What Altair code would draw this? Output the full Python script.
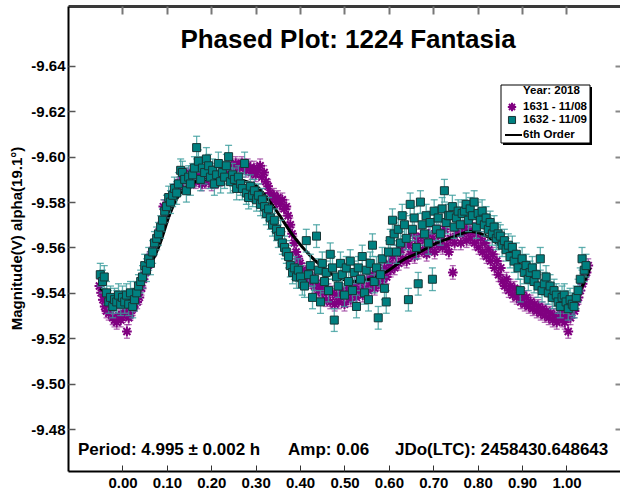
import altair as alt
import pandas as pd

FONT = "Liberation Sans"
TITLE = "Phased Plot: 1224 Fantasia"
Y_TITLE = "Magnitude(V) alpha(19.1°)"
LEGEND_TITLE = "Year: 2018"
SERIES = ["1631 - 11/08", "1632 - 11/09", "6th Order"]
NOTES = ["Period: 4.995 ± 0.002 h", "Amp: 0.06", "JDo(LTC): 2458430.648643"]
X_TICKS = [0.0, 0.1, 0.2, 0.3, 0.4, 0.5, 0.6, 0.7, 0.8, 0.9, 1.0]
Y_TICKS = [-9.64, -9.62, -9.60, -9.58, -9.56, -9.54, -9.52, -9.50, -9.48]

# Session 1631 (11/08) - purple asterisks
P_PHASE = [
    -0.052, -0.048, -0.044, -0.040, -0.036, -0.031, -0.027, -0.022, -0.018, -0.013,
    -0.008, -0.004, 0.001, 0.005, 0.010, 0.014, 0.018, 0.023, 0.028, 0.033,
    0.038, 0.043, 0.047, 0.052, 0.056, 0.061, 0.065, 0.070, 0.074, 0.079,
    0.083, 0.088, 0.092, 0.097, 0.101, 0.106, 0.110, 0.115, 0.119, 0.124,
    0.128, 0.133, 0.138, 0.142, 0.147, 0.151, 0.156, 0.160, 0.165, 0.170,
    0.174, 0.179, 0.183, 0.188, 0.192, 0.197, 0.201, 0.206, 0.210, 0.215,
    0.219, 0.224, 0.228, 0.233, 0.237, 0.242, 0.246, 0.251, 0.255, 0.260,
    0.264, 0.269, 0.273, 0.278, 0.282, 0.287, 0.291, 0.296, 0.300, 0.305,
    0.310, 0.314, 0.319, 0.323, 0.328, 0.332, 0.337, 0.341, 0.346, 0.350,
    0.355, 0.360, 0.364, 0.369, 0.373, 0.378, 0.382, 0.387, 0.391, 0.396,
    0.400, 0.405, 0.409, 0.414, 0.419, 0.423, 0.428, 0.432, 0.437, 0.441,
    0.446, 0.450, 0.455, 0.459, 0.464, 0.468, 0.473, 0.478, 0.482, 0.487,
    0.491, 0.496, 0.500, 0.505, 0.509, 0.514, 0.518, 0.523, 0.527, 0.532,
    0.536, 0.541, 0.545, 0.550, 0.554, 0.559, 0.563, 0.568, 0.572, 0.577,
    0.581, 0.586, 0.590, 0.595, 0.600, 0.604, 0.609, 0.613, 0.618, 0.622,
    0.627, 0.631, 0.636, 0.640, 0.645, 0.649, 0.654, 0.658, 0.663, 0.667,
    0.672, 0.676, 0.681, 0.685, 0.690, 0.694, 0.699, 0.703, 0.708, 0.712,
    0.717, 0.721, 0.726, 0.730, 0.735, 0.739, 0.744, 0.748, 0.753, 0.757,
    0.762, 0.766, 0.771, 0.775, 0.780, 0.784, 0.789, 0.793, 0.798, 0.802,
    0.807, 0.811, 0.816, 0.820, 0.825, 0.829, 0.834, 0.838, 0.843, 0.847,
    0.852, 0.856, 0.861, 0.865, 0.870, 0.874, 0.879, 0.883, 0.888, 0.892,
    0.897, 0.901, 0.906, 0.910, 0.915, 0.919, 0.924, 0.928, 0.933, 0.937,
    0.942, 0.946, 0.951, 0.955, 0.960, 0.964, 0.969, 0.973, 0.978, 0.982,
    0.987, 0.991, 0.996, 1.000, 1.004, 1.009, 1.013, 1.018, 1.022, 1.027,
    1.031, 1.036, 1.040, 1.045, 1.049,
]
P_MAG = [
    -9.543, -9.540, -9.537, -9.534, -9.532, -9.531, -9.533, -9.529, -9.528, -9.527,
    -9.530, -9.528, -9.530, -9.532, -9.523, -9.529, -9.531, -9.533, -9.535, -9.536,
    -9.538, -9.542, -9.546, -9.549, -9.551, -9.555, -9.557, -9.559, -9.562, -9.564,
    -9.567, -9.570, -9.578, -9.574, -9.577, -9.579, -9.582, -9.584, -9.585, -9.587,
    -9.588, -9.590, -9.589, -9.591, -9.592, -9.590, -9.593, -9.591, -9.589, -9.592,
    -9.590, -9.588, -9.591, -9.589, -9.592, -9.590, -9.588, -9.591, -9.589, -9.591,
    -9.590, -9.592, -9.594, -9.593, -9.595, -9.594, -9.596, -9.595, -9.597, -9.596,
    -9.595, -9.597, -9.596, -9.594, -9.596, -9.595, -9.593, -9.595, -9.592, -9.594,
    -9.596, -9.591, -9.593, -9.589, -9.587, -9.584, -9.582, -9.583, -9.580, -9.582,
    -9.579, -9.581, -9.577, -9.578, -9.574, -9.570, -9.566, -9.562, -9.558, -9.555,
    -9.553, -9.550, -9.548, -9.549, -9.546, -9.545, -9.547, -9.543, -9.544, -9.541,
    -9.543, -9.540, -9.542, -9.537, -9.541, -9.536, -9.540, -9.535, -9.539, -9.536,
    -9.538, -9.541, -9.535, -9.539, -9.542, -9.537, -9.540, -9.544, -9.538, -9.541,
    -9.545, -9.539, -9.542, -9.546, -9.541, -9.544, -9.548, -9.542, -9.547, -9.544,
    -9.549, -9.546, -9.551, -9.547, -9.553, -9.550, -9.556, -9.551, -9.558, -9.553,
    -9.559, -9.555, -9.562, -9.554, -9.561, -9.557, -9.566, -9.556, -9.563, -9.558,
    -9.565, -9.559, -9.563, -9.557, -9.566, -9.560, -9.564, -9.558, -9.567, -9.561,
    -9.565, -9.560, -9.568, -9.561, -9.558, -9.564, -9.549, -9.562, -9.566, -9.568,
    -9.562, -9.566, -9.569, -9.563, -9.567, -9.564, -9.568, -9.562, -9.566, -9.560,
    -9.564, -9.558, -9.562, -9.556, -9.559, -9.554, -9.557, -9.551, -9.554, -9.548,
    -9.551, -9.545, -9.543, -9.546, -9.541, -9.543, -9.539, -9.542, -9.538, -9.540,
    -9.536, -9.539, -9.535, -9.538, -9.534, -9.536, -9.533, -9.535, -9.532, -9.534,
    -9.531, -9.533, -9.530, -9.532, -9.529, -9.531, -9.528, -9.530, -9.527, -9.529,
    -9.531, -9.528, -9.527, -9.530, -9.523, -9.529, -9.533, -9.532, -9.536, -9.538,
    -9.541, -9.544, -9.547, -9.549, -9.552,
]
P_ERR = 0.003

# Session 1632 (11/09) - teal squares
T_PHASE = [
    -0.050, -0.045, -0.041, -0.036, -0.031, -0.027, -0.022, -0.018, -0.013, -0.009,
    -0.004, 0.000, 0.005, 0.009, 0.014, 0.018, 0.023, 0.027, 0.032, 0.036,
    0.041, 0.045, 0.050, 0.054, 0.059, 0.063, 0.068, 0.072, 0.077, 0.081,
    0.086, 0.090, 0.095, 0.099, 0.104, 0.108, 0.113, 0.117, 0.122, 0.126,
    0.131, 0.135, 0.140, 0.144, 0.149, 0.153, 0.158, 0.162, 0.167, 0.171,
    0.176, 0.180, 0.185, 0.189, 0.194, 0.198, 0.203, 0.207, 0.212, 0.216,
    0.221, 0.225, 0.230, 0.234, 0.239, 0.243, 0.248, 0.252, 0.257, 0.261,
    0.266, 0.270, 0.275, 0.279, 0.284, 0.288, 0.293, 0.297, 0.302, 0.306,
    0.311, 0.315, 0.320, 0.324, 0.329, 0.333, 0.338, 0.342, 0.347, 0.351,
    0.356, 0.360, 0.365, 0.369, 0.374, 0.378, 0.383, 0.387, 0.392, 0.396,
    0.401, 0.405, 0.410, 0.414, 0.419, 0.423, 0.428, 0.432, 0.437, 0.441,
    0.446, 0.450, 0.455, 0.459, 0.464, 0.468, 0.473, 0.477, 0.482, 0.486,
    0.491, 0.495, 0.500, 0.504, 0.509, 0.513, 0.518, 0.522, 0.527, 0.531,
    0.536, 0.540, 0.545, 0.549, 0.554, 0.558, 0.563, 0.567, 0.572, 0.576,
    0.581, 0.585, 0.590, 0.594, 0.599, 0.603, 0.608, 0.612, 0.617, 0.621,
    0.626, 0.630, 0.635, 0.639, 0.644, 0.648, 0.653, 0.657, 0.662, 0.666,
    0.671, 0.675, 0.680, 0.684, 0.689, 0.693, 0.698, 0.702, 0.707, 0.711,
    0.716, 0.720, 0.725, 0.729, 0.734, 0.738, 0.743, 0.747, 0.752, 0.756,
    0.761, 0.765, 0.770, 0.774, 0.779, 0.783, 0.788, 0.792, 0.797, 0.801,
    0.806, 0.810, 0.815, 0.819, 0.824, 0.828, 0.833, 0.837, 0.842, 0.846,
    0.851, 0.855, 0.860, 0.864, 0.869, 0.873, 0.878, 0.882, 0.887, 0.891,
    0.896, 0.900, 0.905, 0.909, 0.914, 0.918, 0.923, 0.927, 0.932, 0.936,
    0.941, 0.945, 0.950, 0.954, 0.959, 0.963, 0.968, 0.972, 0.977, 0.981,
    0.986, 0.990, 0.995, 0.999, 1.004, 1.008, 1.013, 1.017, 1.022, 1.026,
    1.031, 1.035, 1.040, 1.044,
]
T_MAG = [
    -9.548, -9.545, -9.547, -9.540, -9.536, -9.538, -9.534, -9.537, -9.536, -9.539,
    -9.535, -9.538, -9.536, -9.539, -9.535, -9.540, -9.534, -9.537, -9.540, -9.543,
    -9.545, -9.547, -9.552, -9.550, -9.555, -9.553, -9.558, -9.562, -9.564, -9.566,
    -9.569, -9.572, -9.576, -9.578, -9.582, -9.580, -9.583, -9.586, -9.584, -9.588,
    -9.594, -9.593, -9.590, -9.585, -9.591, -9.588, -9.592, -9.595, -9.604, -9.598,
    -9.590, -9.595, -9.593, -9.599, -9.596, -9.591, -9.594, -9.588, -9.592, -9.597,
    -9.589, -9.593, -9.591, -9.596, -9.600, -9.589, -9.592, -9.590, -9.586, -9.591,
    -9.588, -9.586, -9.597, -9.584, -9.582, -9.587, -9.583, -9.585, -9.581, -9.583,
    -9.579, -9.581, -9.578, -9.575, -9.577, -9.573, -9.570, -9.572, -9.568, -9.565,
    -9.567, -9.562, -9.560, -9.558, -9.556, -9.552, -9.549, -9.551, -9.547, -9.550,
    -9.547, -9.544, -9.543, -9.563, -9.548, -9.552, -9.538, -9.546, -9.565, -9.550,
    -9.536, -9.553, -9.545, -9.549, -9.541, -9.557, -9.551, -9.528, -9.547, -9.543,
    -9.553, -9.548, -9.539, -9.551, -9.545, -9.554, -9.541, -9.549, -9.534, -9.551,
    -9.546, -9.556, -9.540, -9.550, -9.537, -9.553, -9.561, -9.545, -9.551, -9.529,
    -9.548, -9.555, -9.542, -9.536, -9.558, -9.563, -9.572, -9.566, -9.558, -9.568,
    -9.562, -9.574, -9.570, -9.564, -9.537, -9.579, -9.568, -9.573, -9.560, -9.544,
    -9.580, -9.570, -9.566, -9.574, -9.562, -9.571, -9.546, -9.576, -9.568, -9.573,
    -9.566, -9.577, -9.585, -9.571, -9.574, -9.574, -9.578, -9.569, -9.573, -9.576,
    -9.570, -9.575, -9.576, -9.579, -9.572, -9.577, -9.574, -9.580, -9.569, -9.575,
    -9.572, -9.576, -9.570, -9.573, -9.568, -9.571, -9.566, -9.569, -9.564, -9.566,
    -9.565, -9.561, -9.563, -9.559, -9.561, -9.556, -9.560, -9.554, -9.557, -9.551,
    -9.541, -9.555, -9.549, -9.552, -9.546, -9.549, -9.551, -9.545, -9.548, -9.543,
    -9.555, -9.541, -9.544, -9.547, -9.540, -9.543, -9.538, -9.541, -9.539, -9.536,
    -9.534, -9.538, -9.539, -9.536, -9.533, -9.537, -9.535, -9.534, -9.538, -9.541,
    -9.546, -9.555, -9.550, -9.552,
]
T_ERR = 0.005

# 6th order Fourier fit
FIT_PHASE = [-0.05, -0.03, 0.0, 0.03, 0.055, 0.085, 0.107, 0.145, 0.19, 0.25,
             0.295, 0.34, 0.385, 0.43, 0.483, 0.52, 0.557, 0.6, 0.632, 0.67,
             0.708, 0.75, 0.783, 0.82, 0.866, 0.912, 0.956, 1.0, 1.03, 1.053]
FIT_MAG = [-9.542, -9.539, -9.536, -9.539, -9.549, -9.562, -9.575, -9.587, -9.590, -9.590,
           -9.588, -9.578, -9.565, -9.555, -9.547, -9.545, -9.546, -9.550, -9.5545, -9.558,
           -9.562, -9.565, -9.567, -9.565, -9.558, -9.549, -9.541, -9.537, -9.541, -9.551]

assert len(P_PHASE) == len(P_MAG)
assert len(T_PHASE) == len(T_MAG)
assert len(FIT_PHASE) == len(FIT_MAG)

PURPLE = "#800080"
PURPLE_ERR = "#9a3a9c"
TEAL = "#008080"
TEAL_ERR = "#3a9c9c"
ASTERISK = "M0,-1L0,1M-1,0L1,0M-0.72,-0.72L0.72,0.72M-0.72,0.72L0.72,-0.72"

p_df = pd.DataFrame({"phase": P_PHASE, "mag": P_MAG})
p_df["lo"] = p_df["mag"] - P_ERR
p_df["hi"] = p_df["mag"] + P_ERR
t_df = pd.DataFrame({"phase": T_PHASE, "mag": T_MAG})
t_df["lo"] = t_df["mag"] - T_ERR
t_df["hi"] = t_df["mag"] + T_ERR
fit_df = pd.DataFrame({"phase": FIT_PHASE, "mag": FIT_MAG})

W, H = 552, 465
xs = alt.Scale(domain=[-0.1227, 1.1205], nice=False, zero=False)
ys = alt.Scale(domain=[-9.6664, -9.4615], reverse=True, nice=False, zero=False)

lab = dict(labelFont=FONT, labelFontSize=15, labelFontWeight="bold", labelColor="black")
Y_LABEL_EXPR = "'-' + format(-datum.value, '.2f')"

ax_x_labels = alt.Axis(orient="bottom", values=X_TICKS, format=".2f", ticks=False,
                       domain=True, domainColor="black", domainWidth=2, grid=False,
                       title=None, labelPadding=4, labelFlush=False, labelOverlap=False, **lab)
ax_x_bticks = alt.Axis(orient="bottom", values=X_TICKS, labels=False, domain=False, grid=False,
                       title=None, tickSize=6, offset=-6, tickColor="#333333", tickWidth=1)
ax_x_tticks = alt.Axis(orient="top", values=X_TICKS, labels=False, domain=False, grid=False,
                       title=None, tickSize=8, offset=-8, tickColor="#777777", tickWidth=2)
ax_x_top = alt.Axis(orient="top", values=X_TICKS, labels=False, ticks=False, domain=True,
                    domainColor="#3a3a3a", domainWidth=3, grid=False, title=None)

ax_y_labels = alt.Axis(orient="left", values=Y_TICKS, labelExpr=Y_LABEL_EXPR, ticks=False,
                       domain=True, domainColor="black", domainWidth=2, grid=False,
                       labelPadding=3, labelOverlap=False, labelFlush=False,
                       title=Y_TITLE, titleFont=FONT, titleFontSize=15, titleFontWeight="bold",
                       titleColor="black", titleAngle=270, titleX=-47, titleY=232,
                       titleAlign="center", titleBaseline="alphabetic", **lab)
ax_y_lticks = alt.Axis(orient="left", values=Y_TICKS, labels=False, domain=False, grid=False,
                       title=None, tickSize=7, offset=-7, tickColor="#555555", tickWidth=1.5)
ax_y_rticks = alt.Axis(orient="right", values=Y_TICKS, labels=False, domain=False, grid=False,
                       title=None, tickSize=5, offset=-5, tickColor="#888888", tickWidth=2)

p_err = alt.Chart(p_df).mark_errorbar(
    color=PURPLE_ERR, opacity=0.75, ticks=alt.MarkConfig(size=6), thickness=1.3
).encode(
    x=alt.X("phase:Q", scale=xs, axis=ax_x_labels),
    y=alt.Y("lo:Q", scale=ys, axis=ax_y_labels),
    y2="hi:Q",
)
p_pts = alt.Chart(p_df).mark_point(
    shape=ASTERISK, filled=False, color=PURPLE, strokeWidth=2, size=95, opacity=1
).encode(
    x=alt.X("phase:Q", scale=xs, axis=ax_x_bticks),
    y=alt.Y("mag:Q", scale=ys, axis=ax_y_lticks),
)
fit = alt.Chart(fit_df).mark_line(color="black", strokeWidth=3, interpolate="monotone").encode(
    x=alt.X("phase:Q", scale=xs, axis=ax_x_top),
    y=alt.Y("mag:Q", scale=ys, axis=None),
)
t_err = alt.Chart(t_df).mark_errorbar(
    color=TEAL_ERR, opacity=0.8, ticks=alt.MarkConfig(size=7), thickness=1.3
).encode(
    x=alt.X("phase:Q", scale=xs, axis=ax_x_tticks),
    y=alt.Y("lo:Q", scale=ys, axis=ax_y_rticks),
    y2="hi:Q",
)
t_pts = alt.Chart(t_df).mark_square(
    size=64, color=TEAL, stroke="#173636", strokeWidth=1, opacity=1
).encode(
    x=alt.X("phase:Q", scale=xs, axis=None),
    y=alt.Y("mag:Q", scale=ys, axis=None),
)

one = pd.DataFrame({"k": [0]})


def label(text, x, y, size, align="left"):
    return alt.Chart(one).mark_text(
        text=text, font=FONT, fontSize=size, fontWeight="bold", color="black",
        align=align, baseline="middle"
    ).encode(x=alt.value(x), y=alt.value(y))


title = label(TITLE, 280, 34, 26, align="center")
notes = [label(NOTES[0], 10, 444, 17), label(NOTES[1], 220, 444, 17), label(NOTES[2], 327, 444, 17)]

# legend box
leg_shadow = alt.Chart(one).mark_rect(color="black").encode(
    x=alt.value(435), x2=alt.value(524), y=alt.value(81), y2=alt.value(139))
leg_box = alt.Chart(one).mark_rect(fill="white", stroke="black", strokeWidth=1).encode(
    x=alt.value(433), x2=alt.value(522), y=alt.value(79), y2=alt.value(137))
leg_t0 = label(LEGEND_TITLE, 455, 85, 11.5)
leg_t1 = label(SERIES[0], 455, 101, 11.5)
leg_t2 = label(SERIES[1], 455, 114, 11.5)
leg_t3 = label(SERIES[2], 455, 129, 11.5)
leg_s1 = alt.Chart(one).mark_point(shape=ASTERISK, filled=False, color=PURPLE, strokeWidth=2,
                                   size=70, opacity=1).encode(x=alt.value(444), y=alt.value(101))
leg_s2 = alt.Chart(one).mark_square(size=50, color=TEAL, stroke="#173636", strokeWidth=1,
                                    opacity=1).encode(x=alt.value(444), y=alt.value(114))
leg_s3 = alt.Chart(one).mark_rule(color="black", strokeWidth=2).encode(
    x=alt.value(437), x2=alt.value(454), y=alt.value(129))

chart = alt.layer(
    p_err, p_pts, fit, t_err, t_pts, title, *notes,
    leg_shadow, leg_box, leg_t0, leg_t1, leg_t2, leg_t3, leg_s1, leg_s2, leg_s3,
).resolve_axis(x="independent", y="independent").properties(
    width=W, height=H,
    autosize=alt.AutoSizeParams(type="none"),
    padding={"left": 68, "top": 6, "right": 0, "bottom": 22},
    background="white",
).configure_view(stroke=None)

chart.save("out.html", embed_options={"renderer": "svg", "actions": False})
